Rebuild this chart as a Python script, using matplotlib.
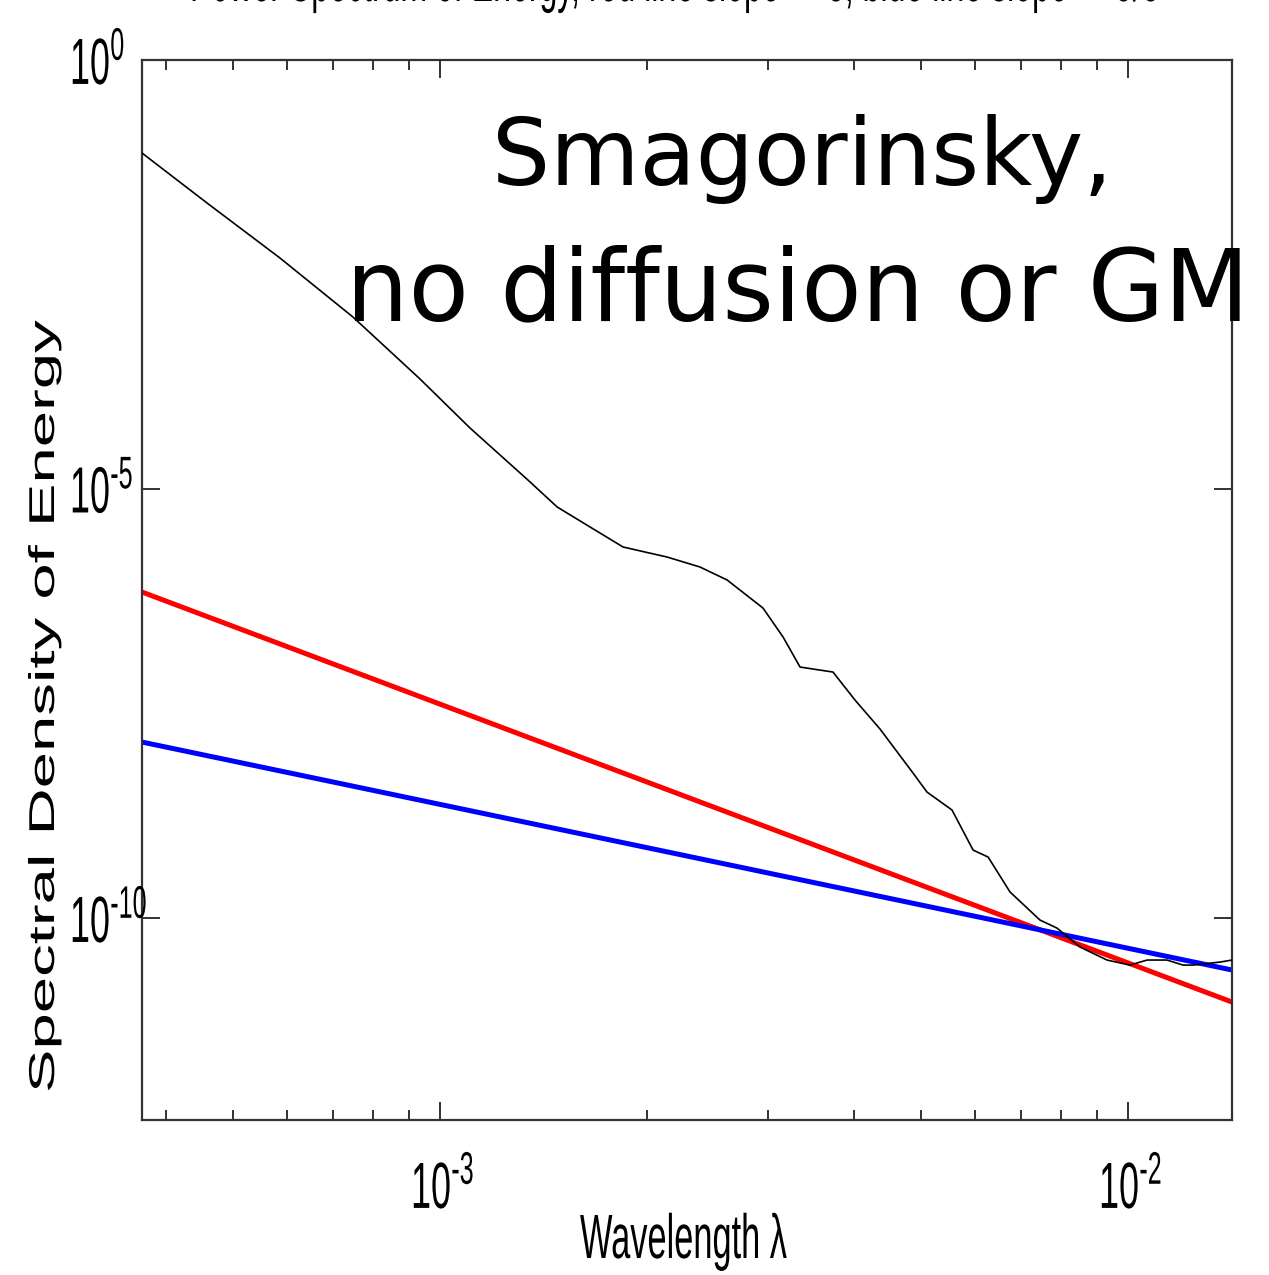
import numpy as np
import matplotlib
matplotlib.use("Agg")
import matplotlib.pyplot as plt
from matplotlib.ticker import FixedLocator, LogLocator, NullLocator, NullFormatter
from matplotlib.transforms import Affine2D, offset_copy
from matplotlib.patheffects import AbstractPathEffect

# ---- data -------------------------------------------------------------
# spectrum of the Smagorinsky run (wavelength, spectral energy density)
wavelength = [3.688e-4, 4.585e-4, 5.853e-4, 7.471e-4, 9.352e-4, 1.1055e-3,
              1.342e-3, 1.480e-3, 1.652e-3, 1.845e-3, 2.138e-3, 2.387e-3,
              2.614e-3, 2.947e-3, 3.152e-3, 3.336e-3, 3.725e-3, 4.010e-3,
              4.360e-3, 4.869e-3, 5.102e-3, 5.548e-3, 5.953e-3, 6.260e-3,
              6.737e-3, 7.446e-3, 7.882e-3, 8.516e-3, 9.321e-3, 1.0067e-2,
              1.0657e-2, 1.1393e-2, 1.2023e-2, 1.2434e-2, 1.3606e-2, 1.4163e-2]
energy = [8.24e-2, 2.154e-2, 4.92e-3, 1.011e-3, 1.915e-4, 5.14e-5,
          1.273e-5, 6.17e-6, 3.61e-6, 2.11e-6, 1.612e-6, 1.233e-6,
          8.70e-7, 4.10e-7, 1.884e-7, 8.42e-8, 7.36e-8, 3.47e-8,
          1.595e-8, 4.90e-9, 2.94e-9, 1.814e-9, 6.20e-10, 5.14e-10,
          2.01e-10, 9.48e-11, 7.64e-11, 4.59e-11, 3.24e-11, 2.83e-11,
          3.24e-11, 3.24e-11, 2.83e-11, 2.83e-11, 3.07e-11, 3.24e-11]

# reference power-law lines (slope -3 in red, slope -5/3 in blue)
red_x = [3.688e-4, 1.416e-2]
red_y = [6.30e-7, 1.05e-11]
blue_x = [3.688e-4, 1.416e-2]
blue_y = [1.125e-8, 2.48e-11]

x_limits = [3.688e-4, 1.416e-2]
y_limits = [4.43e-13, 1.0]
x_major = [1e-3, 1e-2]
x_major_labels = [r"$10^{\text{-3}}$", r"$10^{\text{-2}}$"]
y_major = [1e-10, 1e-5, 1e0]
y_major_labels = [r"$10^{\text{-10}}$", r"$10^{\text{-5}}$", r"$10^{\text{0}}$"]

title_text = "Power Spectrum of Energy, red line slope = -3, blue line slope = -5/3"
xlabel_text = "Wavelength \u03bb"
ylabel_text = "Spectral Density of Energy"
note_lines = ["Smagorinsky,", "no diffusion or GM"]

plt.rcParams["font.family"] = ["Liberation Sans", "DejaVu Sans"]
plt.rcParams["mathtext.fontset"] = "custom"
plt.rcParams["mathtext.rm"] = "Liberation Sans"
plt.rcParams["mathtext.it"] = "Liberation Sans:italic"
plt.rcParams["mathtext.bf"] = "Liberation Sans:bold"


class Condensed(AbstractPathEffect):
    """Draw glyphs narrowed (sx) or flattened (sy) in their own frame."""

    def __init__(self, sx=1.0, sy=1.0):
        super().__init__()
        self.sx, self.sy = sx, sy

    def draw_path(self, renderer, gc, tpath, affine, rgbFace=None):
        renderer.draw_path(gc, tpath, Affine2D().scale(self.sx, self.sy) + affine, rgbFace)


NARROW = [Condensed(sx=0.55)]

# ---- figure -----------------------------------------------------------
W, H = 1269, 1275
fig = plt.figure(figsize=(W / 100, H / 100), dpi=100)
ax = fig.add_axes([142 / W, 1 - 1120 / H, 1090 / W, 1060 / H])

ax.plot(wavelength, energy, color="black", lw=1.2, zorder=3)
ax.plot(red_x, red_y, color="#ff0000", lw=3.6, zorder=2)
ax.plot(blue_x, blue_y, color="#0000ff", lw=3.6, zorder=2)

ax.set_xscale("log")
ax.set_yscale("log")
ax.set_xlim(*x_limits)
ax.set_ylim(*y_limits)

ax.xaxis.set_major_locator(FixedLocator(x_major))
ax.xaxis.set_major_formatter(NullFormatter())
ax.xaxis.set_minor_locator(LogLocator(base=10, subs=np.arange(2, 10), numticks=20))
ax.xaxis.set_minor_formatter(NullFormatter())
ax.yaxis.set_major_locator(FixedLocator(y_major))
ax.yaxis.set_major_formatter(NullFormatter())
ax.yaxis.set_minor_locator(NullLocator())

for side in ax.spines.values():
    side.set_linewidth(1.6)
    side.set_color("#333333")

ax.tick_params(which="both", direction="in", top=True, right=True,
               color="#333333", width=1.4)
ax.tick_params(which="major", length=13)
ax.tick_params(which="minor", length=7)

# tick labels: tall, narrow powers of ten
x_lab_tr = offset_copy(ax.get_xaxis_transform(), fig=fig, x=-29, y=-88, units="dots")
for val, lab in zip(x_major, x_major_labels):
    ax.text(val, 0, lab, transform=x_lab_tr, ha="left", va="baseline",
            fontsize=47, path_effects=NARROW, clip_on=False)

y_lab_tr = offset_copy(ax.get_yaxis_transform(), fig=fig, x=-72, y=-24, units="dots")
for val, lab in zip(y_major, y_major_labels):
    ax.text(0, val, lab, transform=y_lab_tr, ha="left", va="baseline",
            fontsize=47, path_effects=NARROW, clip_on=False)

# axis labels
fig.text(580 / W, 1 - 1258 / H, xlabel_text, ha="left", va="baseline",
         fontsize=45, path_effects=NARROW)
fig.text(54 / W, 1 - 707 / H, ylabel_text, rotation=90, rotation_mode="anchor",
         ha="center", va="baseline", fontsize=47,
         path_effects=[Condensed(sy=0.55)])

# title running off the upper edge of the page
fig.text(190 / W, 1 - 1 / H, title_text, ha="left", va="baseline",
         fontsize=42, path_effects=NARROW)

# annotation over the plot
fig.text(802 / W, 1 - 185 / H, note_lines[0], ha="center", va="baseline",
         fontsize=66, family="DejaVu Sans", zorder=10)
fig.text(798 / W, 1 - 320 / H, note_lines[1], ha="center", va="baseline",
         fontsize=71, family="DejaVu Sans", zorder=10)

fig.savefig("out.png", dpi=100, facecolor="white")
